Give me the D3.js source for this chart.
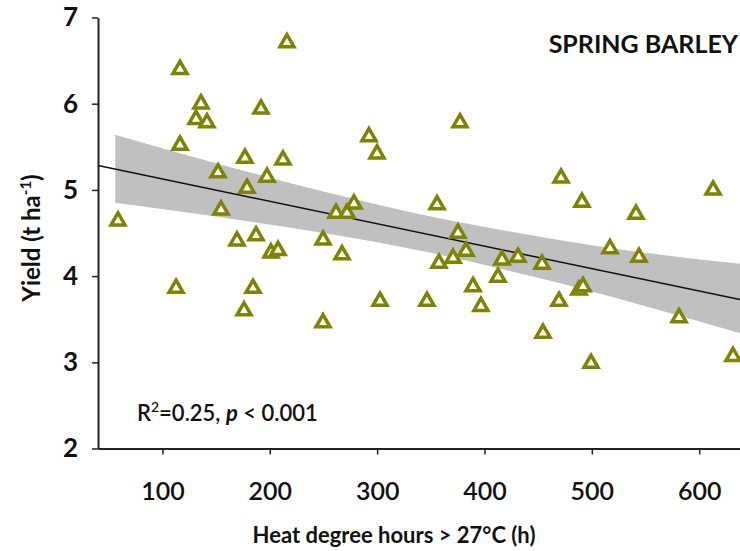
<!DOCTYPE html>
<html lang="en">
<head>
    <meta charset="UTF-8">
    <title>Spring barley yield vs heat degree hours</title>
    <script src="https://d3js.org/d3.v7.min.js"></script>
    <style>
        body { margin: 0; background: #fff; }
        svg { display: block; font-family: "Lato", "Open Sans", sans-serif; }
    </style>
</head>
<body>
<div id="chart"></div>
<script>
    // heat degree hours (h) and yield (t/ha)
    const hdh = [58.6, 112.7, 116.4, 116.4, 135.9, 131.3, 141.5, 151.8, 154.6, 176.9,
        178.8, 169.5, 176.0, 184.4, 187.2, 191.8, 197.4, 201.1, 207.7, 212.3,
        216.0, 249.6, 249.6, 261.7, 271.9, 267.3, 278.4, 292.4, 299.9, 302.7,
        346.4, 355.8, 357.6, 370.7, 382.8, 375.3, 377.2, 389.3, 396.7, 412.6,
        416.3, 431.2, 453.6, 454.5, 469.4, 471.3, 488.0, 491.8, 490.8, 499.2,
        516.9, 541.1, 543.9, 581.2, 612.9, 631.5];
    const yieldVals = [4.65, 3.87, 6.41, 5.53, 6.01, 5.83, 5.79, 5.21, 4.78, 5.38,
        5.03, 4.42, 3.61, 3.87, 4.48, 5.95, 5.16, 4.28, 4.31, 5.36,
        6.72, 4.43, 3.47, 4.74, 4.74, 4.26, 4.85, 5.63, 5.43, 3.72,
        3.72, 4.84, 4.16, 4.22, 4.30, 4.51, 5.79, 3.89, 3.66, 4.00,
        4.20, 4.23, 4.15, 3.35, 3.72, 5.15, 3.85, 3.89, 4.87, 3.00,
        4.33, 4.73, 4.23, 3.53, 5.01, 3.08];

    // fitted line and its confidence band
    const fitX = [40, 638];
    const fitY = [5.283, 3.728];
    const bandX = [56, 150, 250, 350, 450, 550, 640];
    const bandLow = [4.85, 4.69, 4.50, 4.27, 3.98, 3.65, 3.33];
    const bandHigh = [5.64, 5.31, 4.98, 4.69, 4.46, 4.27, 4.14];

    const xTicks = [100, 200, 300, 400, 500, 600];
    const yTicks = [2, 3, 4, 5, 6, 7];

    const width = 740, height = 551;
    const olive = "#7c8406";

    const svg = d3.select("#chart").append("svg")
        .attr("width", width)
        .attr("height", height);

    const x = d3.scaleLinear().domain([40, 638]).range([98, 740]);
    const y = d3.scaleLinear().domain([2, 7]).range([448.5, 17.5]);

    // grey band
    const band = bandX.map((v, i) => [v, bandLow[i], bandHigh[i]]);
    svg.append("path")
        .datum(band)
        .attr("fill", "#c0c0c0")
        .attr("d", d3.area()
            .x(d => x(d[0]))
            .y0(d => y(d[1]))
            .y1(d => y(d[2]))
            .curve(d3.curveMonotoneX));

    // regression line
    svg.append("line")
        .attr("x1", x(fitX[0])).attr("y1", y(fitY[0]))
        .attr("x2", x(fitX[1])).attr("y2", y(fitY[1]))
        .attr("stroke", "#111")
        .attr("stroke-width", 1.5);

    // axes
    const yAxis = svg.append("g")
        .attr("transform", `translate(${x(40)},0)`)
        .call(d3.axisLeft(y).tickValues(yTicks).tickFormat(d3.format("d"))
            .tickSize(6).tickSizeOuter(0).tickPadding(14));
    const xAxis = svg.append("g")
        .attr("transform", `translate(0,${y(2)})`)
        .call(d3.axisBottom(x).tickValues(xTicks).tickSize(6).tickSizeOuter(0).tickPadding(28));

    [yAxis, xAxis].forEach(g => {
        g.select(".domain").attr("stroke", "#222").attr("stroke-width", 2);
        g.selectAll(".tick line").attr("stroke", "#222").attr("stroke-width", 1.5);
        g.selectAll("text").attr("fill", "#111").style("font-family", "Lato, sans-serif");
    });
    yAxis.selectAll("text").style("font-size", "26px").style("font-weight", "bold");
    xAxis.selectAll("text").style("font-size", "25px").style("font-weight", "600");

    // points
    const tri = d3.symbol().type(d3.symbolTriangle).size(85);
    svg.append("g").selectAll("path")
        .data(hdh.map((h, i) => [h, yieldVals[i]]))
        .join("path")
        .attr("d", tri)
        .attr("transform", d => `translate(${x(d[0])},${y(d[1]) + 1})`)
        .attr("fill", "#fffff0")
        .attr("stroke", olive)
        .attr("stroke-width", 3.5)
        .attr("stroke-linejoin", "miter");

    // labels
    svg.append("text")
        .attr("x", 394).attr("y", 543)
        .attr("text-anchor", "middle")
        .style("font-size", "22px").style("font-weight", "bold").attr("fill", "#111")
        .text("Heat degree hours > 27°C (h)");

    const yl = svg.append("text")
        .attr("transform", "translate(40,238) rotate(-90)")
        .attr("text-anchor", "middle")
        .style("font-size", "24px").style("font-weight", "bold").attr("fill", "#111");
    yl.append("tspan").text("Yield (t ha");
    yl.append("tspan").attr("dy", -9).style("font-size", "15px").text("-1");
    yl.append("tspan").attr("dy", 9).text(")");

    svg.append("text")
        .attr("x", 738).attr("y", 53)
        .attr("text-anchor", "end")
        .style("font-size", "25px").style("font-weight", "bold").attr("fill", "#111")
        .text("SPRING BARLEY");

    const r2 = svg.append("text")
        .attr("x", 137).attr("y", 421)
        .style("font-size", "22px").style("font-weight", "600").attr("fill", "#111");
    r2.append("tspan").text("R");
    r2.append("tspan").attr("dy", -9).style("font-size", "14px").text("2");
    r2.append("tspan").attr("dy", 9).text("=0.25, ");
    r2.append("tspan").style("font-style", "italic").style("font-weight", "bold").text("p");
    r2.append("tspan").text(" < 0.001");
</script>
</body>
</html>
